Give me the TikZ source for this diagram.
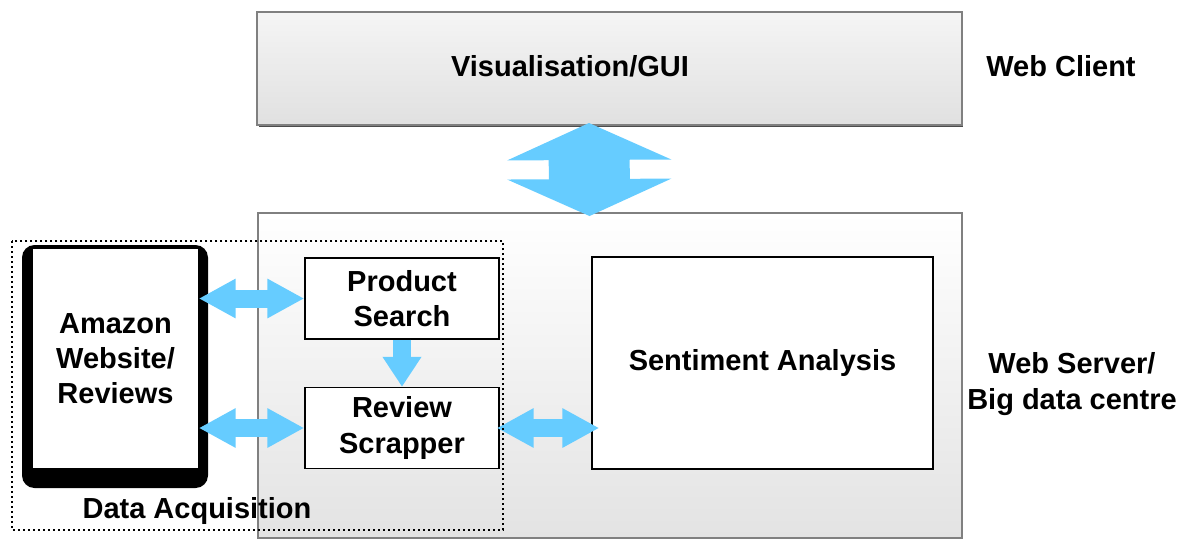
\documentclass[tikz,border=0pt]{standalone}
\usepackage{fontspec}
\setmainfont{Liberation Sans}
\usetikzlibrary{arrows.meta, shadows}

\definecolor{arrowblue}{HTML}{66CCFF}
\definecolor{boxline}{HTML}{808080}

\tikzset{
  layerbox/.style={draw=boxline, line width=0.04cm,
    drop shadow={shadow xshift=0.03cm, shadow yshift=-0.04cm, opacity=1, fill=black!70}},
  blockbox/.style={draw=black, fill=white, line width=0.03cm, align=center, inner sep=0pt},
  fatarrow/.style={arrowblue, line width=0.36cm,
    {Triangle[length=0.74cm,width=0.74cm]}-{Triangle[length=0.74cm,width=0.74cm]}}
}

\begin{document}
\begin{tikzpicture}[x=0.02cm, y=-0.02cm, font=\fontsize{16.5}{20}\selectfont\bfseries]
        \useasboundingbox (0,0) rectangle (1187,538);

        % the two layers
        \node[layerbox, top color=black!4, bottom color=black!12,
              minimum width=14.1cm, minimum height=2.26cm] (gui) at (609.5,68.5) {};
        \node[layerbox, top color=white, bottom color=black!11,
              minimum width=14.08cm, minimum height=6.5cm] (server) at (610,375.5) {};
        \node (guitext) at (570,66) {Visualisation/GUI};
        \node (client) at (1061,66) {Web Client};
        \node[align=center] (servertag) at (1072,384) {Web Server/\\Big data centre};

        \draw[arrowblue, line width=1.62cm, shorten <=-0.06cm, shorten >=-0.08cm,
              {Triangle[length=0.74cm,width=3.26cm]}-{Triangle[length=0.74cm,width=3.26cm]}]
              ([xshift=-0.41cm]gui.south) -- ([xshift=-0.41cm]server.north);

        % data source
        \fill[black, rounded corners=0.25cm] (22,245) rectangle (208,488);
        \node[blockbox, draw=none, minimum width=3.3cm, minimum height=4.38cm] (amazon) at (115.5,358.5) {Amazon\\Website/\\Reviews};

        \node[blockbox, minimum width=3.88cm, minimum height=1.62cm] (search) at (402,298.5) {Product\\Search};
        \node[blockbox, minimum width=3.88cm, minimum height=1.62cm] (scrapper) at (402,428) {Review\\Scrapper};
        \node[blockbox, minimum width=6.82cm, minimum height=4.24cm] (sentiment) at (762.5,363) {Sentiment Analysis};
        \node (acqtag) at (197,511) {Data Acquisition};

        \draw[fatarrow] (amazon.east |- search.west) -- (search.west);
        \draw[fatarrow] (amazon.east |- scrapper.west) -- (scrapper.west);
        \draw[fatarrow, shorten <=-0.06cm, shorten >=-0.16cm] (scrapper.east) -- (sentiment.west |- scrapper.east);
        \draw[arrowblue, line width=0.36cm, -{Triangle[length=0.6cm,width=0.74cm]}] (search.south) -- (scrapper.north);

        \draw[line width=0.03cm, dash pattern=on 0.04cm off 0.06cm] (12,241) rectangle (503,530);
      \end{tikzpicture}
\end{document}
